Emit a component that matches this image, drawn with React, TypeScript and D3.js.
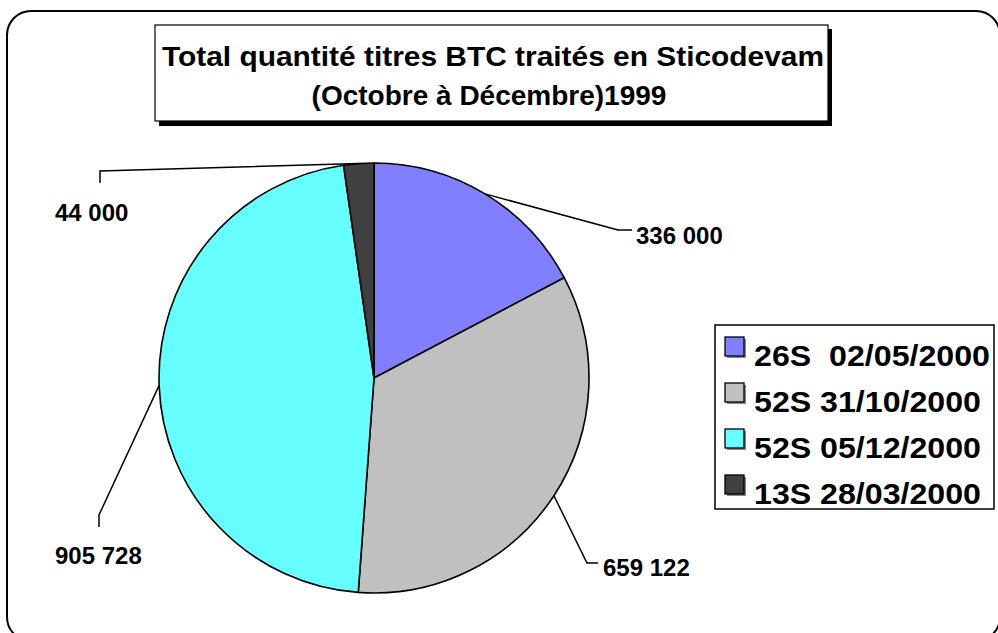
import React, { useEffect, useRef } from 'react';
import * as d3 from 'd3';

const categories = ['26S  02/05/2000', '52S 31/10/2000', '52S 05/12/2000', '13S 28/03/2000'];
const values = [336000, 659122, 905728, 44000];
const valueLabels = ['336 000', '659 122', '905 728', '44 000'];
const colors = ['#8080ff', '#c0c0c0', '#66ffff', '#404040'];
const titleLines = ['Total quantité titres BTC traités en Sticodevam', '(Octobre à Décembre)1999'];

// leader elbow + label placement (layout only)
const leaders = [
  { elbow: [618, 230], end: [632, 230], tx: 636, ty: 244 },
  { elbow: [587, 563], end: [598, 563], tx: 603, ty: 576 },
  { elbow: [99, 515], end: [99, 527], tx: 55, ty: 564 },
  { elbow: [100, 171], end: [100, 183], tx: 55, ty: 221 },
];
const legendTextWidths = [236, 227, 227, 227];

const FONT = '"Liberation Sans", Arial, sans-serif';

const App = () => {
  const svgRef = useRef<SVGSVGElement>(null);

  useEffect(() => {
    const width = 998;
    const height = 633;
    const cx = 374;
    const cy = 378;
    const radius = 215;

    d3.select(svgRef.current).selectAll('*').remove();
    const svg = d3.select(svgRef.current)
      .attr('width', width)
      .attr('height', height)
      .style('font-family', FONT);

    // Outer rounded frame (runs past the bottom/right edge of the picture)
    svg.append('rect')
      .attr('x', 7).attr('y', 11)
      .attr('width', 993).attr('height', 630)
      .attr('rx', 24)
      .attr('fill', '#fff')
      .attr('stroke', '#000')
      .attr('stroke-width', 2);

    // Title box with shadow
    svg.append('rect')
      .attr('x', 159).attr('y', 29)
      .attr('width', 673).attr('height', 97)
      .attr('fill', '#000');
    svg.append('rect')
      .attr('x', 155).attr('y', 25)
      .attr('width', 673).attr('height', 96)
      .attr('fill', '#fff')
      .attr('stroke', '#000')
      .attr('stroke-width', 1.2);
    const title = svg.append('g');
    title.append('text')
      .attr('x', 162)
      .attr('y', 66)
      .attr('font-size', 27.5)
      .attr('font-weight', 'bold')
      .attr('textLength', 662)
      .attr('lengthAdjust', 'spacingAndGlyphs')
      .text(titleLines[0]);
    title.append('text')
      .attr('x', 489)
      .attr('y', 105)
      .attr('text-anchor', 'middle')
      .attr('font-size', 28)
      .attr('font-weight', 'bold')
      .text(titleLines[1]);

    // Pie
    const pie = d3.pie<number>().sort(null).value(d => d);
    const arcs = pie(values);
    const arc = d3.arc<d3.PieArcDatum<number>>().innerRadius(0).outerRadius(radius);

    const g = svg.append('g').attr('transform', `translate(${cx},${cy})`);
    g.selectAll('path')
      .data(arcs)
      .enter()
      .append('path')
      .attr('d', arc)
      .attr('fill', (d, i) => colors[i])
      .attr('stroke', '#000')
      .attr('stroke-width', 1.6)
      .attr('stroke-linejoin', 'round');

    // Leader lines + value labels
    arcs.forEach((a, i) => {
      const mid = (a.startAngle + a.endAngle) / 2;
      const sx = cx + radius * Math.sin(mid);
      const sy = cy - radius * Math.cos(mid);
      const L = leaders[i];
      svg.append('polyline')
        .attr('points', `${sx},${sy} ${L.elbow[0]},${L.elbow[1]} ${L.end[0]},${L.end[1]}`)
        .attr('fill', 'none')
        .attr('stroke', '#000')
        .attr('stroke-width', 1.5);
      svg.append('text')
        .attr('x', L.tx)
        .attr('y', L.ty)
        .attr('font-size', 24)
        .attr('font-weight', 'bold')
        .text(valueLabels[i]);
    });

    // Legend
    const legend = svg.append('g');
    legend.append('rect')
      .attr('x', 715).attr('y', 325)
      .attr('width', 279).attr('height', 184)
      .attr('fill', '#fff')
      .attr('stroke', '#000')
      .attr('stroke-width', 1.5);
    const rowY = d3.scalePoint<string>().domain(categories).range([366, 504]);
    const items = legend.selectAll('g.item')
      .data(categories)
      .enter()
      .append('g')
      .attr('class', 'item')
      .attr('transform', d => `translate(0,${rowY(d)})`);
    items.append('rect')
      .attr('x', 727).attr('y', -27)
      .attr('width', 19).attr('height', 19)
      .attr('fill', '#888');
    items.append('rect')
      .attr('x', 725).attr('y', -29)
      .attr('width', 19).attr('height', 19)
      .attr('fill', (d, i) => colors[i])
      .attr('stroke', '#000')
      .attr('stroke-width', 1.3);
    items.append('text')
      .attr('x', 754)
      .attr('y', 0)
      .attr('font-size', 30)
      .attr('font-weight', 'bold')
      .attr('textLength', (d, i) => legendTextWidths[i])
      .attr('lengthAdjust', 'spacingAndGlyphs')
      .style('white-space', 'pre')
      .text(d => d);
  }, []);

  return (
    <div style={{ position: 'absolute', left: 0, top: 0, width: 998, height: 633, overflow: 'hidden', background: '#fff' }}>
      <svg ref={svgRef} style={{ display: 'block' }}></svg>
    </div>
  );
};

export default App;
